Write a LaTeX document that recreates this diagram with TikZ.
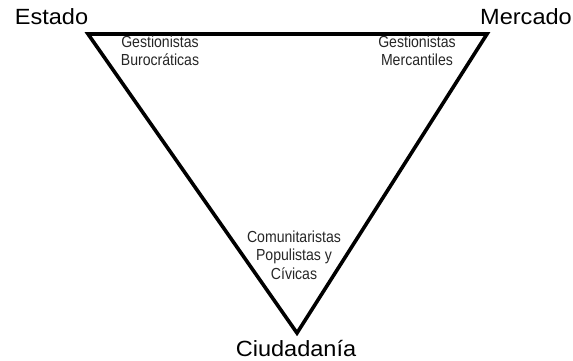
\documentclass[tikz,border=0pt]{standalone}
\usepackage{fontspec}
\setmainfont{Liberation Sans}
\begin{document}
\begin{tikzpicture}[x=1pt,y=-1pt,
  corner/.style={font=\fontsize{22}{26}\selectfont, inner sep=0pt, anchor=base,
    xscale=1.07},
  zone/.style={font=\fontsize{16}{18.5}\selectfont, inner sep=0pt, anchor=base,
    align=center, xscale=0.88, text=black!85},
  edge/.style={line width=3.6pt, line join=miter}]
  \useasboundingbox (0,0) rectangle (573,361);
  % triangle vertices
  \coordinate (E) at (88,34);
  \coordinate (M) at (487,34);
  \coordinate (C) at (297,333);
  \draw[edge] (E) -- (M) -- (C) -- cycle;
  % vertex labels
  \node[corner] (estado) at (51.5,25) {Estado};
  \node[corner] (mercado) at (526,25) {Mercado};
  \node[corner] (ciudadania) at (296,356.5) {Ciudadanía};
  % inner labels (anchored at the baseline of the last line)
  \node[zone] (burocraticas) at (160,66) {Gestionistas\\Burocráticas};
  \node[zone] (mercantiles) at (417,66) {Gestionistas\\Mercantiles};
  \node[zone] (civicas) at (294,279) {Comunitaristas\\Populistas y\\Cívicas};
\end{tikzpicture}
\end{document}
